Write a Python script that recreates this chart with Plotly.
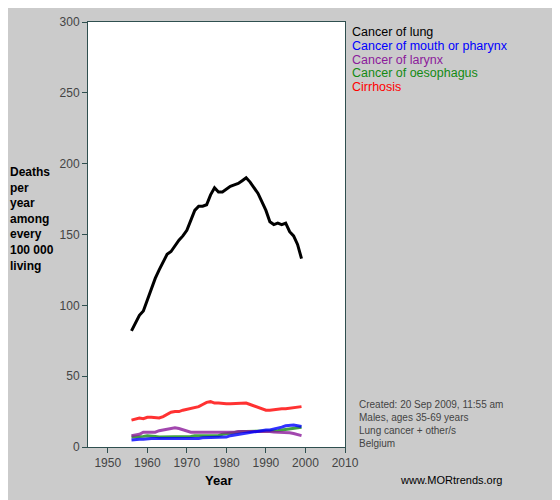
import plotly.graph_objects as go

years = list(range(1956, 2000))
lung = [82, 88, 93, 96, 104, 112, 119, 125, 130, 136, 138, 142, 146, 149, 153, 160, 167, 170, 170, 171,
        178, 183, 180, 180, 182, 184, 185, 186, 188, 190, 187, 183, 179, 173, 167, 159, 157, 158, 157, 158,
        152, 149, 143, 133]
cirrhosis = [19, 20, 20.5, 20, 21, 21, 21, 20.5, 21.5, 23, 24.5, 25, 25, 26, 26.5, 27, 27.5, 28.5, 30, 31.5,
             32, 31, 31, 30.5, 30.5, 30.5, 30.5, 31, 31, 31, 30, 29, 28, 27, 26, 26, 26.5, 26.5, 27, 27,
             27.5, 28, 28.5, 28.5]
mouth = [5, 5.5, 5.5, 5.5, 6, 6, 6, 6, 6, 5.5, 5.5, 5.5, 6, 6, 6, 6, 6, 6, 6.5, 6.5,
         7, 7, 7, 7, 7, 8, 8.5, 9, 9.5, 10, 10, 10.5, 11, 11.5, 12, 12, 12.5, 13, 14, 15,
         15.5, 15.5, 15, 14.5]
larynx = [8, 8.5, 9, 10.5, 10.5, 10, 10.5, 11.5, 12, 12, 12.5, 13.5, 13, 12, 11, 10.5, 10.5, 10.5, 10.5, 10.5,
          10.5, 10.5, 10.5, 10, 10, 10, 10.5, 11, 11, 11, 11, 11.5, 11.5, 11.5, 11.5, 11, 10.5, 10.5, 10, 10,
          10, 9.5, 9, 8]
oesophagus = [7, 7, 7, 7.5, 8, 8, 7.5, 7, 7, 7, 7.5, 7.5, 7.5, 7.5, 7.5, 7.5, 8, 8, 8.5, 8.5,
              8.5, 8, 8, 9, 9.5, 10, 10.5, 10.5, 11, 11, 11, 11.5, 11.5, 11.5, 11.5, 11, 11, 11.5, 12, 12.5,
              12.5, 13, 13.5, 14]

series = [("Cancer of lung", lung, "#000000"),
          ("Cancer of mouth or pharynx", mouth, "#0000ff"),
          ("Cancer of larynx", larynx, "#8b1a9b"),
          ("Cancer of oesophagus", oesophagus, "#138a13"),
          ("Cirrhosis", cirrhosis, "#ff0000")]

fig = go.Figure()
for name, vals, col in reversed(series[1:]):
    fig.add_trace(go.Scatter(x=years, y=vals, mode="lines", line=dict(color=col, width=3), opacity=0.8, showlegend=False))
fig.add_trace(go.Scatter(x=years, y=lung, mode="lines", line=dict(color="#000000", width=3), showlegend=False))

L, R, T, B = 80, 337, 7, 439
def px(x): return (x - L) / (R - L)
def py(y): return 1 - (y - T) / (B - T)

font = "Liberation Sans"
axcol = "#2f4f4f"
fig.update_layout(
    width=560, height=500, margin=dict(l=L, r=560 - R, t=T, b=500 - B),
    paper_bgcolor="#cbcbcb", plot_bgcolor="#ffffff",
    font=dict(family=font, size=12, color="#444444"),
    xaxis=dict(range=[1945, 2010], tickvals=list(range(1950, 2011, 10)), ticks="outside", ticklen=5,
               tickcolor=axcol, showline=True, linecolor=axcol, mirror=True, showgrid=False, zeroline=False),
    yaxis=dict(range=[0, 300], tickvals=list(range(0, 301, 50)), ticks="outside", ticklen=5,
               tickcolor=axcol, showline=True, linecolor=axcol, mirror=True, showgrid=False, zeroline=False),
)
for i, (name, vals, col) in enumerate(series):
    fig.add_annotation(text=name, xref="paper", yref="paper", x=px(342), y=py(8 + i * 14),
                       xanchor="left", yanchor="top", showarrow=False, font=dict(size=12.5, color=col))
fig.add_annotation(text="<b>Deaths<br>per<br>year<br>among<br>every<br>100 000<br>living</b>",
                   xref="paper", yref="paper", x=px(0), y=py(150),
                   xanchor="left", yanchor="top", align="left", showarrow=False,
                   font=dict(size=12, color="#000"))
fig.add_annotation(text="<b>Year</b>", xref="paper", yref="paper", x=px(210), y=py(463),
                   xanchor="center", yanchor="top", showarrow=False, font=dict(size=13, color="#000"))
fig.add_annotation(text="Created: 20 Sep 2009, 11:55 am<br>Males, ages 35-69 years<br>Lung cancer + other/s<br>Belgium",
                   xref="paper", yref="paper", x=px(349), y=py(388),
                   xanchor="left", yanchor="top", align="left", showarrow=False,
                   font=dict(size=10, color="#444444"))
fig.add_annotation(text="www.MORtrends.org", xref="paper", yref="paper", x=px(390),
                   y=py(464), xanchor="left", yanchor="top", showarrow=False,
                   font=dict(size=11, color="#000"))
fig.write_html("out.html")
